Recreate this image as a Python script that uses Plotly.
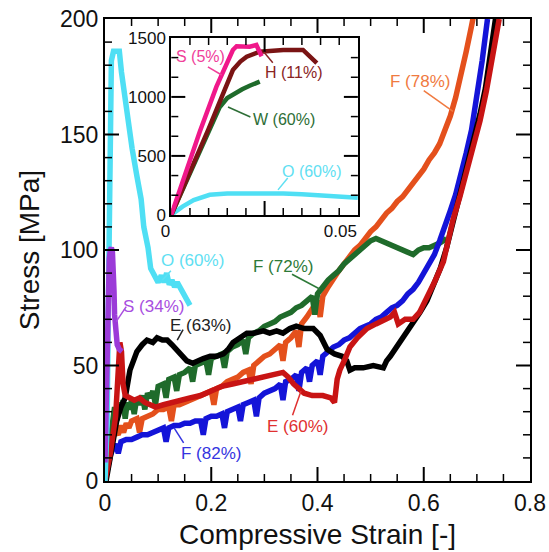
import plotly.graph_objects as go

# ---------------- main plot data (strain [-], stress [MPa]) ----------------
o60_x = [0.000, 0.004, 0.006, 0.008, 0.010, 0.012, 0.016, 0.022, 0.027, 0.031,
         0.036, 0.042, 0.051, 0.060, 0.068, 0.073, 0.081, 0.086, 0.094, 0.100,
         0.106, 0.111, 0.116, 0.121, 0.126, 0.131, 0.136, 0.141, 0.146, 0.151,
         0.156, 0.160]
o60_y = [0, 25, 70, 120, 160, 182, 186, 186, 186, 177,
         168, 158, 144, 132, 122, 110, 101, 92, 88, 86,
         89, 86, 90, 85, 87, 84, 86, 84, 82, 80,
         78, 76]

s34_x = [0.000, 0.002, 0.004, 0.006, 0.008, 0.010, 0.012, 0.014, 0.016, 0.017,
         0.018, 0.020, 0.023, 0.027, 0.032]
s34_y = [8, 30, 60, 85, 96, 100, 101, 99, 92, 82,
         72, 64, 59, 57, 56]

f72_x = [0.000, 0.006, 0.012, 0.018, 0.022, 0.026, 0.030, 0.034, 0.038, 0.042,
         0.046, 0.050, 0.055, 0.060, 0.065, 0.070, 0.075, 0.080, 0.085, 0.090,
         0.095, 0.100, 0.110, 0.115, 0.120, 0.130, 0.135, 0.140, 0.150, 0.160,
         0.165, 0.170, 0.180, 0.190, 0.195, 0.200, 0.210, 0.220, 0.225, 0.230,
         0.240, 0.250, 0.260, 0.265, 0.270, 0.280, 0.290, 0.300, 0.310, 0.320,
         0.330, 0.340, 0.350, 0.360, 0.370, 0.380, 0.390, 0.395, 0.400, 0.410,
         0.420, 0.430, 0.440, 0.450, 0.460, 0.470, 0.480, 0.490, 0.500, 0.510,
         0.520, 0.530, 0.540, 0.550, 0.560, 0.570, 0.580, 0.590, 0.600, 0.610,
         0.620, 0.630, 0.643]
f72_y = [0, 10, 22, 32, 26, 34, 30, 35, 27, 34,
         31, 35, 29, 36, 33, 37, 31, 38, 36, 39,
         33, 41, 42, 36, 44, 45, 39, 46, 47, 49,
         43, 50, 51, 52, 46, 53, 54, 55, 49, 56,
         58, 59, 61, 55, 62, 64, 65, 67, 68, 69,
         71, 72, 73, 75, 76, 78, 80, 72, 81, 84,
         87, 89, 91, 94, 96, 98, 100, 102, 104, 105,
         104, 103, 102, 101, 100, 99, 98, 100, 101, 101,
         102, 103, 105]

f78_x = [0.000, 0.006, 0.012, 0.018, 0.025, 0.030, 0.035, 0.040, 0.045, 0.050,
         0.060, 0.065, 0.070, 0.080, 0.090, 0.100, 0.110, 0.120, 0.125, 0.130,
         0.140, 0.150, 0.160, 0.170, 0.180, 0.190, 0.200, 0.205, 0.210, 0.220,
         0.230, 0.240, 0.250, 0.260, 0.270, 0.275, 0.280, 0.290, 0.300, 0.310,
         0.320, 0.330, 0.335, 0.340, 0.350, 0.360, 0.365, 0.370, 0.380, 0.390,
         0.400, 0.405, 0.410, 0.420, 0.430, 0.440, 0.450, 0.460, 0.470, 0.480,
         0.490, 0.500, 0.510, 0.520, 0.530, 0.540, 0.550, 0.560, 0.570, 0.580,
         0.590, 0.600, 0.610, 0.620, 0.630, 0.640, 0.650, 0.660, 0.670, 0.680,
         0.690, 0.695]
f78_y = [0, 8, 16, 22, 20, 24, 21, 25, 23, 26,
         27, 21, 27, 28, 29, 31, 31, 32, 26, 33,
         33, 34, 35, 36, 37, 38, 39, 33, 40, 41,
         43, 44, 45, 47, 48, 42, 50, 52, 54, 55,
         57, 59, 52, 60, 62, 65, 58, 68, 71, 75,
         78, 71, 80, 84, 88, 91, 94, 97, 100, 102,
         105, 108, 110, 113, 116, 118, 121, 123, 126, 129,
         132, 135, 139, 142, 146, 152, 158, 166, 175, 186,
         197, 203]

f82_x = [0.000, 0.005, 0.010, 0.015, 0.020, 0.025, 0.030, 0.040, 0.050, 0.060,
         0.070, 0.080, 0.090, 0.100, 0.110, 0.115, 0.120, 0.130, 0.140, 0.150,
         0.160, 0.170, 0.180, 0.185, 0.190, 0.200, 0.210, 0.220, 0.225, 0.230,
         0.240, 0.250, 0.255, 0.260, 0.270, 0.280, 0.285, 0.290, 0.300, 0.310,
         0.320, 0.330, 0.335, 0.340, 0.350, 0.360, 0.365, 0.370, 0.380, 0.385,
         0.390, 0.400, 0.405, 0.410, 0.420, 0.430, 0.440, 0.450, 0.460, 0.470,
         0.480, 0.490, 0.500, 0.510, 0.520, 0.530, 0.540, 0.550, 0.560, 0.570,
         0.580, 0.590, 0.600, 0.610, 0.620, 0.630, 0.640, 0.650, 0.660, 0.670,
         0.680, 0.690, 0.700, 0.710, 0.720]
f82_y = [0, 6, 11, 14, 16, 12, 17, 18, 18, 19,
         20, 20, 21, 22, 23, 17, 23, 24, 24, 25,
         25, 26, 26, 20, 27, 28, 28, 29, 23, 30,
         31, 32, 26, 33, 34, 35, 28, 36, 38, 39,
         40, 42, 35, 43, 44, 46, 39, 47, 49, 43,
         50, 52, 46, 54, 56, 58, 59, 61, 62, 64,
         66, 67, 68, 70, 71, 73, 75, 76, 78, 81,
         83, 86, 90, 93, 98, 104, 110, 117, 124, 132,
         142, 152, 166, 182, 200]

e63_x = [0.002, 0.012, 0.022, 0.030, 0.038, 0.047, 0.060, 0.070, 0.079, 0.090,
         0.098, 0.108, 0.117, 0.126, 0.135, 0.145, 0.154, 0.165, 0.173, 0.185,
         0.198, 0.210, 0.223, 0.232, 0.241, 0.255, 0.267, 0.280, 0.298, 0.310,
         0.323, 0.335, 0.348, 0.360, 0.375, 0.392, 0.405, 0.418, 0.432, 0.446,
         0.455, 0.461, 0.470, 0.486, 0.505, 0.524, 0.530, 0.537, 0.558, 0.580,
         0.593, 0.606, 0.618, 0.631, 0.643, 0.655, 0.668, 0.681, 0.694, 0.706,
         0.716, 0.725, 0.735]
e63_y = [0, 14, 26, 32, 36, 48, 56, 59, 61, 60,
         62, 61, 61, 59, 57, 54, 52, 51, 52, 53,
         54, 54, 55, 57, 60, 62, 64, 64, 65, 64,
         65, 64, 66, 67, 66, 66, 63, 57, 55, 54,
         52, 48, 49, 49, 50, 49, 52, 54, 61, 68,
         73, 78, 85, 92, 101, 113, 124, 136, 147, 159,
         170, 185, 200]

e60_x = [0.000, 0.010, 0.020, 0.025, 0.028, 0.031, 0.034, 0.038, 0.045, 0.055,
         0.065, 0.075, 0.085, 0.095, 0.110, 0.125, 0.140, 0.160, 0.180, 0.200,
         0.220, 0.240, 0.260, 0.280, 0.300, 0.320, 0.335, 0.345, 0.355, 0.365,
         0.375, 0.390, 0.410, 0.425, 0.432, 0.437, 0.442, 0.452, 0.461, 0.475,
         0.493, 0.510, 0.525, 0.537, 0.545, 0.552, 0.565, 0.580, 0.592, 0.606,
         0.620, 0.637, 0.655, 0.668, 0.681, 0.694, 0.706, 0.718, 0.731, 0.742]
e60_y = [0, 12, 28, 45, 60, 56, 42, 37, 36, 35,
         36, 34, 33, 32, 33, 34, 35, 36, 37, 39,
         41, 42, 43, 44, 45, 46, 47, 45, 42, 40,
         38, 37, 37, 36, 34, 44, 48, 53, 58, 62,
         66, 68, 70, 71, 73, 68, 70, 70, 73, 79,
         86, 95, 113, 123, 134, 145, 156, 169, 185, 200]

# ---------------- inset data (strain [-], stress [MPa]) ----------------
s5_x = [0.000, 0.0040, 0.0076, 0.0121, 0.0151, 0.0165, 0.0175, 0.0195, 0.0210, 0.0228,
        0.0237, 0.0242]
s5_y = [0, 370, 703, 1087, 1313, 1398, 1430, 1432, 1425, 1440,
        1390, 1345]

h11_x = [0.000, 0.005, 0.010, 0.013, 0.0165, 0.0185, 0.0202, 0.0237, 0.027, 0.030,
         0.0353, 0.0371, 0.0390]
h11_y = [0, 360, 730, 960, 1228, 1300, 1341, 1383, 1395, 1398,
         1398, 1341, 1287]

w60_x = [0.000, 0.005, 0.010, 0.013, 0.015, 0.017, 0.019, 0.021, 0.0225, 0.0237]
w60_y = [0, 345, 700, 915, 990, 1030, 1065, 1095, 1115, 1130]

o60i_x = [0.000, 0.003, 0.006, 0.0103, 0.015, 0.020, 0.025, 0.030, 0.035, 0.040,
          0.045, 0.050]
o60i_y = [0, 70, 125, 170, 182, 185, 185, 182, 175, 165,
          155, 145]

# ---------------- tick values ----------------
main_x_major = [0.2, 0.4, 0.6]
main_x_minor = [0.05, 0.1, 0.15, 0.25, 0.3, 0.35, 0.45, 0.5, 0.55, 0.65, 0.7, 0.75]
main_y_major = [50, 100, 150]
main_y_minor = [10, 20, 30, 40, 60, 70, 80, 90, 110, 120, 130, 140, 160, 170, 180, 190]
ins_x_major = [0.025]
ins_x_minor = [0.005, 0.01, 0.015, 0.02, 0.03, 0.035, 0.04, 0.045]
ins_y_major = [500, 1000]
ins_y_minor = [500 / 3, 1000 / 3, 2000 / 3, 2500 / 3, 3500 / 3, 4000 / 3]

FONT = "Arial, Liberation Sans, sans-serif"

W, H = 549, 552
ML, MR, MT, MB = 105, 19, 19, 71
MAIN_XR, MAIN_YR = [0, 0.8], [0, 200]
INS_XD, INS_YD = [0.156, 0.595], [0.576, 0.959]
INS_XR, INS_YR = [0, 0.05], [0, 1500]
PW, PH = W - ML - MR, H - MT - MB

fig = go.Figure()


def add_line(x, y, color, width, xa="x", ya="y"):
    fig.add_trace(go.Scatter(x=x, y=y, mode="lines",
                             line=dict(color=color, width=width),
                             xaxis=xa, yaxis=ya, showlegend=False,
                             hoverinfo="skip"))


add_line(f78_x, f78_y, "#e4501c", 5.5)
add_line(f72_x, f72_y, "#1f6b2b", 5.5)
add_line(f82_x, f82_y, "#1414d8", 5.5)
add_line(e63_x, e63_y, "#000000", 5.5)
add_line(e60_x, e60_y, "#c81414", 5.5)
add_line(o60_x, o60_y, "#4fdff4", 5.5)
add_line(s34_x, s34_y, "#9b3bd8", 5.5)

add_line(o60i_x, o60i_y, "#4fdff4", 4.5, "x2", "y2")
add_line(w60_x, w60_y, "#1f6b2b", 4.5, "x2", "y2")
add_line(h11_x, h11_y, "#7a1414", 4.5, "x2", "y2")
add_line(s5_x, s5_y, "#f0188a", 4.5, "x2", "y2")

shapes = []


def add_tick_shapes(xvals, yvals, ax, wpx, hpx, length_px, width):
    """Inward tick marks on all four sides of a frame (x in data, y in domain units & vice versa)."""
    fy = length_px / hpx
    fx = length_px / wpx
    for v in xvals:
        for y0, y1 in ((0, fy), (1, 1 - fy)):
            shapes.append(dict(type="line", xref="x" + ax, yref="y" + ax + " domain",
                               x0=v, x1=v, y0=y0, y1=y1, layer="above",
                               line=dict(color="black", width=width)))
    for v in yvals:
        for x0, x1 in ((0, fx), (1, 1 - fx)):
            shapes.append(dict(type="line", xref="x" + ax + " domain", yref="y" + ax,
                               x0=x0, x1=x1, y0=v, y1=v, layer="above",
                               line=dict(color="black", width=width)))


ins_w = PW * (INS_XD[1] - INS_XD[0])
ins_h = PH * (INS_YD[1] - INS_YD[0])
add_tick_shapes(main_x_major, main_y_major, "", PW, PH, 14, 2)
add_tick_shapes(main_x_minor, main_y_minor, "", PW, PH, 7, 1.5)
add_tick_shapes(ins_x_major, ins_y_major, "2", ins_w, ins_h, 14, 2)
add_tick_shapes(ins_x_minor, ins_y_minor, "2", ins_w, ins_h, 7, 1.5)

# labels: text, x, y, color, axes, leader line (x0, y0, x1, y1)
labels = [
    ("O (60%)", 0.164, 95.5, "#5fe0f2", "", (0.124, 91, 0.108, 87)),
    ("S (34%)", 0.091, 75.5, "#a84ee0", "", (0.040, 75.5, 0.021, 69)),
    ("E (63%)", 0.180, 67.5, "#222222", "", (0.147, 65.5, 0.136, 61)),
    ("F (72%)", 0.335, 93.0, "#2d7a38", "", (0.352, 89.5, 0.405, 83)),
    ("F (78%)", 0.592, 173.0, "#f07a40", "", (0.600, 169, 0.655, 160)),
    ("E (60%)", 0.362, 23.5, "#e03030", "", (0.353, 28.5, 0.369, 39)),
    ("F (82%)", 0.200, 12.0, "#3434e0", "", (0.148, 16.5, 0.130, 23)),
    ("S (5%)", 0.0078, 1341, "#f0409a", "2", (0.0098, 1254, 0.0135, 1186)),
    ("H (11%)", 0.0328, 1205, "#8a2424", "2", (0.0272, 1290, 0.0248, 1380)),
    ("W (60%)", 0.0303, 810, "#2d6e36", "2", (0.0212, 830, 0.0152, 915)),
    ("O (60%)", 0.0378, 364, "#5fe0f2", "2", (0.0312, 313, 0.0286, 212)),
]

annotations = []
for text, lx, ly, col, ax, (x0, y0, x1, y1) in labels:
    annotations.append(dict(text=text, x=lx, y=ly, xref="x" + ax, yref="y" + ax,
                            showarrow=False, font=dict(family=FONT, size=17 if ax == "" else 16, color=col),
                            xanchor="center", yanchor="middle"))
    shapes.append(dict(type="line", x0=x0, y0=y0, x1=x1, y1=y1, xref="x" + ax, yref="y" + ax,
                       line=dict(color=col, width=1.5)))

frame = dict(showline=True, linecolor="black", linewidth=2, mirror=True,
             showgrid=False, zeroline=False, ticks="", automargin=False)

fig.update_layout(
    width=W, height=H,
    margin=dict(l=ML, r=MR, t=MT, b=MB, autoexpand=False),
    paper_bgcolor="white", plot_bgcolor="white",
    font=dict(family=FONT, color="#111111"),
    xaxis=dict(range=MAIN_XR, tick0=0, dtick=0.2,
               tickfont=dict(size=23, family=FONT),
               title=dict(text="Compressive Strain [-]", font=dict(size=28, family=FONT), standoff=10),
               **frame),
    yaxis=dict(range=MAIN_YR, tick0=0, dtick=50,
               tickfont=dict(size=23, family=FONT),
               title=dict(text="Stress [MPa]", font=dict(size=28, family=FONT), standoff=12),
               **frame),
    xaxis2=dict(domain=INS_XD, anchor="y2", range=INS_XR,
                tick0=0, dtick=0.025, labelalias={"0.025": " "},
                ticklabelposition="outside left",
                tickfont=dict(size=17, family=FONT), **frame),
    yaxis2=dict(domain=INS_YD, anchor="x2", range=INS_YR,
                tick0=0, dtick=500,
                tickfont=dict(size=17, family=FONT), **frame),
    annotations=annotations,
    shapes=shapes,
)

fig.write_html("out.html", post_script="document.body.style.margin='0px';",
               config={"displayModeBar": False})
